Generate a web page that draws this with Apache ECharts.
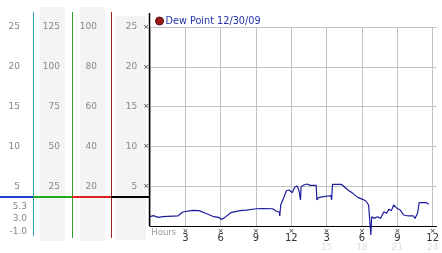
<!DOCTYPE html>
<html><head><meta charset="utf-8">
<script src="https://cdn.jsdelivr.net/npm/echarts@6/dist/echarts.min.js"></script>
<style>html,body{margin:0;padding:0;background:#fff}#c{width:442px;height:253px}</style>
</head><body><div id="c"></div>
<script>
// ---- data ----
const seriesName = 'Dew Point 12/30/09';
const hours = [0,0.28,0.7,1.1,2.36,2.78,3.6,4.17,4.72,5.42,5.83,6.03,6.25,6.86,7.64,8.19,9.03,9.58,10.42,10.69,10.97,11.02,11.1,11.39,11.58,11.81,11.94,12.08,12.28,12.5,12.64,12.78,12.83,13.06,13.33,13.61,14.11,14.17,14.31,14.44,14.72,15.14,15.36,15.42,15.5,16.25,16.81,17.22,17.64,18.06,18.33,18.56,18.67,18.75,18.83,19.03,19.31,19.58,19.86,20.08,20.28,20.5,20.69,20.97,21.25,21.53,21.94,22.36,22.5,22.72,22.86,23.47,23.61,23.67];
const dewPoint = [1.17,1.3,1.09,1.17,1.26,1.76,1.97,1.93,1.6,1.17,1.09,0.84,0.96,1.67,1.93,2.0,2.17,2.2,2.17,1.89,1.76,1.26,2.65,3.68,4.43,4.52,4.6,4.19,4.86,5.03,4.52,3.27,4.94,5.15,5.28,5.11,5.11,3.27,3.56,3.35,3.68,3.77,3.81,3.27,5.24,5.24,4.52,4.1,3.6,3.35,3.14,2.64,0.54,-1.13,1.17,0.96,1.17,0.96,1.8,1.59,2.1,1.93,2.64,2.22,2.0,1.38,1.26,1.26,0.96,1.6,2.93,2.93,3.14,2.72];
const tickHours = [3,6,9,12,15,18,21,24];
const tickLabels12 = ['3','6','9','12','3','6','9','12'];
const tickLabels24 = ['','','','','15','18','21','24'];
const statsLabels = ['5.3','3.0','-1.0'];
const refLevel = 3.65;
// ---- chart ----
const FONT = 'DejaVu Sans';
const GRID = '#c2c2c2';
const chart = echarts.init(document.getElementById('c'), null, {renderer:'canvas'});
const yLab = v => (v === 0 ? '' : String(v));
chart.setOption({
  animation:false,
  legend:{
    left:150, top:11, itemWidth:8, itemHeight:8, itemGap:4,
    textStyle:{color:'#2233aa', fontFamily:FONT, fontSize:9.7, padding:[0,0,0,-3]},
    data:[{name:seriesName, icon:'circle', itemStyle:{color:'#a01818', borderColor:'#501010', borderWidth:1}}]
  },
  grid:{left:150, right:0, top:27, bottom:27, containLabel:false},
  xAxis:{
    type:'value', min:0, max:24.33, interval:3,
    name:'Hours', nameLocation:'start', nameGap:-27,
    nameTextStyle:{color:'#999', fontFamily:FONT, fontSize:8.5, align:'right', verticalAlign:'top', padding:[2,0,0,0]},
    axisLine:{show:true, lineStyle:{color:'#000', width:1}},
    axisTick:{show:false},
    splitLine:{show:true, showMaxLine:false, lineStyle:{color:GRID, width:1}},
    axisLabel:{
      margin:2, showMaxLabel:true, showMinLabel:true,
      formatter: v => {
        const i = tickHours.indexOf(v);
        if (i < 0) return '';
        let s = '{m|×}\n{n|' + tickLabels12[i] + '}';
        if (tickLabels24[i]) s += '\n{f|' + tickLabels24[i] + '}';
        return s;
      },
      rich:{
        m:{fontSize:7, lineHeight:6, color:'#222', fontFamily:FONT},
        n:{fontSize:10, lineHeight:9, color:'#333', fontFamily:FONT},
        f:{fontSize:9, lineHeight:9, color:'#dddddd', fontFamily:FONT}
      }
    }
  },
  yAxis:[
    {type:'value', min:0, max:25, interval:5, position:'left',
     axisLine:{show:false}, axisTick:{show:false},
     splitLine:{show:true, lineStyle:{color:GRID}},
     axisLabel:{margin:1, formatter: v => v === 0 ? '' : '{n|' + v + '}{m|×}',
       rich:{n:{fontSize:9, color:'#888', fontFamily:FONT}, m:{fontSize:7, color:'#222', fontFamily:FONT, padding:[0,0,0,6]}}}},
    {type:'value', min:0, max:100, interval:20, position:'left', offset:45,
     axisLine:{show:false}, axisTick:{show:false}, splitLine:{show:false},
     axisLabel:{margin:8, color:'#888', fontFamily:FONT, fontSize:9, formatter:yLab}},
    {type:'value', min:0, max:125, interval:25, position:'left', offset:82,
     axisLine:{show:false}, axisTick:{show:false}, splitLine:{show:false},
     axisLabel:{margin:8, color:'#888', fontFamily:FONT, fontSize:9, formatter:yLab}},
    {type:'value', min:0, max:25, interval:5, position:'left', offset:122,
     axisLine:{show:false}, axisTick:{show:false}, splitLine:{show:false},
     axisLabel:{margin:8, color:'#888', fontFamily:FONT, fontSize:9, formatter:yLab}}
  ],
  series:[{
    name:seriesName, type:'line', xAxisIndex:0, yAxisIndex:0,
    showSymbol:false, clip:false, z:5,
    lineStyle:{color:'#1c1c9c', width:1.2},
    itemStyle:{color:'#1c1c9c'},
    data: hours.map((h,i)=>[h, dewPoint[i]])
  }]
});
const refY = chart.convertToPixel({yAxisIndex:0}, refLevel);
const statY = [207, 218.5, 232];
chart.setOption({
  graphic:[
    {type:'rect', z:-10, shape:{x:40,y:7,width:25,height:234}, style:{fill:'#f4f4f4'}, silent:true},
    {type:'rect', z:-10, shape:{x:80,y:7,width:25,height:234}, style:{fill:'#f4f4f4'}, silent:true},
    {type:'rect', z:-10, shape:{x:115,y:16,width:31,height:224}, style:{fill:'#f4f4f4'}, silent:true},
    {type:'line', z:10, shape:{x1:33.5,y1:12,x2:33.5,y2:236}, style:{stroke:'#2f9fc4', lineWidth:1}},
    {type:'line', z:10, shape:{x1:72.5,y1:12,x2:72.5,y2:238}, style:{stroke:'#2ea02e', lineWidth:1}},
    {type:'line', z:10, shape:{x1:111.5,y1:12,x2:111.5,y2:238}, style:{stroke:'#a82020', lineWidth:1}},
    {type:'line', z:10, shape:{x1:149.5,y1:13,x2:149.5,y2:226}, style:{stroke:'#000', lineWidth:1.5}},
    {type:'line', z:11, shape:{x1:0,y1:refY,x2:33,y2:refY}, style:{stroke:'#1f3fd0', lineWidth:2}},
    {type:'line', z:11, shape:{x1:33,y1:refY,x2:72,y2:refY}, style:{stroke:'#22aa22', lineWidth:2}},
    {type:'line', z:11, shape:{x1:72,y1:refY,x2:111,y2:refY}, style:{stroke:'#dd2222', lineWidth:2}},
    {type:'line', z:11, shape:{x1:111,y1:refY,x2:149,y2:refY}, style:{stroke:'#000', lineWidth:2}}
  ].concat(statsLabels.map((t,i)=>({
    type:'text', z:10, style:{text:t, x:27, y:statY[i], align:'right', verticalAlign:'middle',
      fill:'#888', font:'9px ' + FONT}
  })))
});
</script></body></html>
